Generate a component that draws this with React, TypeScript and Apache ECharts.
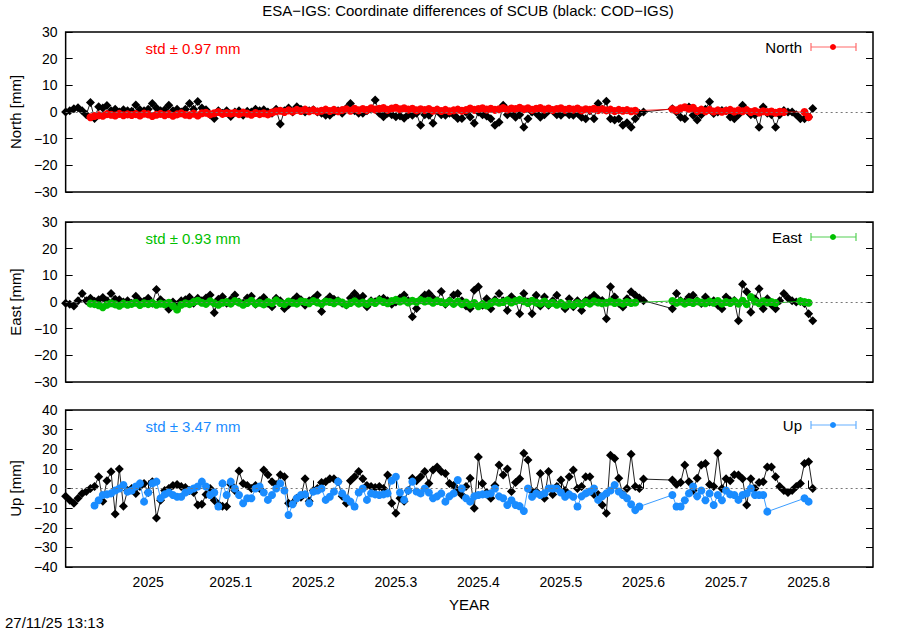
import React, { useEffect, useRef } from "react";
import * as echarts from "echarts";

const FONT = '"Liberation Sans", Arial, Helvetica, sans-serif';

// decimal-year epochs (shared by all series)
const epochs = [
  2024.900, 2024.905, 2024.910, 2024.915, 2024.920, 2024.925, 2024.930, 2024.935, 2024.940, 2024.945,
  2024.950, 2024.955, 2024.960, 2024.965, 2024.970, 2024.975, 2024.980, 2024.985, 2024.990, 2024.995,
  2025.000, 2025.005, 2025.010, 2025.015, 2025.020, 2025.025, 2025.030, 2025.035, 2025.040, 2025.045,
  2025.050, 2025.055, 2025.060, 2025.065, 2025.070, 2025.075, 2025.080, 2025.085, 2025.090, 2025.095,
  2025.100, 2025.105, 2025.110, 2025.115, 2025.120, 2025.125, 2025.130, 2025.135, 2025.140, 2025.145,
  2025.150, 2025.155, 2025.160, 2025.165, 2025.170, 2025.175, 2025.180, 2025.185, 2025.190, 2025.195,
  2025.200, 2025.205, 2025.210, 2025.215, 2025.220, 2025.225, 2025.230, 2025.235, 2025.240, 2025.245,
  2025.250, 2025.255, 2025.260, 2025.265, 2025.270, 2025.275, 2025.280, 2025.285, 2025.290, 2025.295,
  2025.300, 2025.305, 2025.310, 2025.315, 2025.320, 2025.325, 2025.330, 2025.335, 2025.340, 2025.345,
  2025.350, 2025.355, 2025.360, 2025.365, 2025.370, 2025.375, 2025.380, 2025.385, 2025.390, 2025.395,
  2025.400, 2025.405, 2025.410, 2025.415, 2025.420, 2025.425, 2025.430, 2025.435, 2025.440, 2025.445,
  2025.450, 2025.455, 2025.460, 2025.465, 2025.470, 2025.475, 2025.480, 2025.485, 2025.490, 2025.495,
  2025.500, 2025.505, 2025.510, 2025.515, 2025.520, 2025.525, 2025.530, 2025.535, 2025.540, 2025.545,
  2025.550, 2025.555, 2025.560, 2025.565, 2025.570, 2025.575, 2025.580, 2025.585, 2025.590, 2025.595,
  2025.600, 2025.605, 2025.610, 2025.615, 2025.620, 2025.625, 2025.630, 2025.635, 2025.640, 2025.645,
  2025.650, 2025.655, 2025.660, 2025.665, 2025.670, 2025.675, 2025.680, 2025.685, 2025.690, 2025.695,
  2025.700, 2025.705, 2025.710, 2025.715, 2025.720, 2025.725, 2025.730, 2025.735, 2025.740, 2025.745,
  2025.750, 2025.755, 2025.760, 2025.765, 2025.770, 2025.775, 2025.780, 2025.785, 2025.790, 2025.795,
  2025.800, 2025.805,
];

// North [mm] — black: COD-IGS, red: ESA-IGS
const northBlack = [
  0, 0.5, 1.2, 1.6, 0.5, -1, 3.6, -2.4, 2, 1.5,
  2.4, 0.5, 1, 0, 0.8, 0.5, 0.3, 2.6, 0.8, 0.5,
  1, 3.2, 1.5, 0.5, 0.8, 2.5, 0.5, 1, 0, 1,
  3.2, 1, 3.9, 1.5, 0.8, -1, -2.4, 0.5, -0.5, 0.5,
  -1.7, 0, 0.5, -1.2, 0.3, 0, 1, 0.5, 0.8, 0,
  -0.5, 1, -4.5, 0.5, 1.5, 0, 2, 1, 0, 0.5,
  0.8, 0, -0.5, -1.2, -1.2, 0, 0.5, -0.5, 1.4, 3.2,
  0.5, -0.5, -0.5, 0.5, 1, 4.5, -0.5, -1.8, -0.5, -1,
  -1.8, -1.5, -2.3, -1, -1.2, -0.5, -5, -1, -1.2, -4.2,
  0.5, -1, -1.2, -0.5, -1, -2.4, -2.4, 0, -1.9, -4.2,
  0, -1, -1.5, -2.5, -5, -3.8, 2.5, -1, -0.5, -2,
  -1, -5.7, -2.5, 0, -0.5, -2, -1, 0.5, 0.5, -1,
  -1.2, 0, -1, -1.2, -0.5, -2, -2.5, 0.5, -2.5, 3.2,
  1, 4, -2.5, -3, -2.5, -5, -4, -5.7, -2.5, -0.6,
  0, null, null, null, null, null, null, 1.2, 0, -2,
  -2.5, 1.9, -1.2, -3, -1, 1, 3.8, -0.6, 0, 0.6,
  0.5, -1.9, -2.5, -1, 2.5, 0.6, -1, -1, -5.7, 1.9,
  -0.5, -1, -5.7, -1, 0.6, 0, 0, -1, -2.5, -2.5,
  -1.9, 1.3,
];
const northColor = [
  null, null, null, null, null, null, -2, -1.5, -1.2, -1.4,
  -0.8, -1, -1.3, -0.7, -1.2, -0.9, -1.1, -0.8, -1.3, -0.6,
  -0.9, -1.5, -1, -0.7, -1.2, -0.8, -1.4, -0.9, -0.5, -1,
  -1.2, -0.6, -1.3, -0.5, -0.3, -0.9, -0.5, 0, -0.7, -0.4,
  -0.6, -0.3, -0.8, -0.2, -0.6, -1, -0.4, -0.8, -0.5, -0.9,
  -0.2, 0.3, 0.5, 0, 0.6, 0.2, 0.8, 0.4, 0.9, 0.3,
  0.7, 0.2, 0.5, 0.9, 0.4, 0.8, 0.3, 0.7, 1, 0.5,
  1.2, 0.6, 1.1, 0.7, 1.4, 0.9, 1.2, 1.5, 0.8, 1.3,
  1.6, 1, 1.4, 0.9, 1.2, 0.6, 1, 0.7, 1.1, 0.5,
  0.9, 0.4, 0.8, 0.3, 0.6, 0.9, 0.5, 0.7, 1.3, 0.8,
  1.1, 1.4, 0.9, 1.2, 0.8, 1, 1.5, 0.9, 1.3, 1.1,
  1.6, 1, 1.4, 0.8, 1.2, 1.5, 0.9, 1.3, 0.7, 1.1,
  1.4, 0.8, 1.2, 0.9, 1.3, 0.6, 1, 0.8, 1.2, 0.7,
  1, 0.6, 0.9, 0.4, 0.8, 0.5, 0.7, 0.3, 0.5, null,
  null, null, null, null, null, null, null, 1, 0.6, 1.4,
  1.8, 1.2, 1.6, 0.4, 0.9, 0.3, 0.8, 0.2, 0.6, 0.1,
  0.5, 0.8, 0.2, 0.6, 0.3, 0.7, 0, 0.4, -0.2, 0.3,
  0, 0.2, -0.3, 0.1, 0, null, null, null, null, 0,
  -1.9, null,
];

// East [mm]
const eastBlack = [
  -0.5, -0.8, -1.5, 0.5, 3.2, 0.5, 1.4, 0.3, 0.8, 1.7,
  0.5, 3.2, 1, 0.8, 0, 0.5, -0.5, 2.2, 0.5, 0.3,
  1.4, -0.5, 4.7, 0.8, -0.5, -2.7, 0, -1, 0.5, 0.8,
  1.8, -0.5, 1.4, 0.5, 1.5, 2.6, -4, 1, 2, -0.5,
  0.8, 2.6, 0, -0.5, 1.5, 2.2, -0.8, 0.5, 1.7, -0.5,
  -1.8, 1.4, 0.5, -2.4, -1, 0.5, 2, 0.8, -1.2, 0.5,
  1.2, 2.6, -3.6, 0.5, 2, 1, 0.5, -0.5, -1.1, 1.5,
  3.2, 1.5, 2.2, -1.8, 0.5, 0.1, 1, 1.4, 0.5, -0.8,
  0, 1.5, 2.6, 0.5, -5.5, -2.4, 1, 2.6, 3.2, 1.5,
  0.5, 3.9, -0.8, 0.5, 2.6, 3.2, 0.5, -1.5, -2.4, 4.4,
  5.7, -1.2, 1.2, -2.5, 0.8, 3.2, 0.5, -3.2, 2, 0.5,
  -4.4, 3.2, 0, -4.4, 2.5, -1.5, 1.9, -1.2, 0.5, 2.5,
  -0.5, -2.5, 1.2, -1.8, 0.5, -3.2, 0.6, 1.2, 2.5, 1,
  0.6, -6.3, 5.7, 1.9, -0.5, -1.9, 1.2, 3.8, 2.5, 1.5,
  0.5, null, null, null, null, null, null, -2.5, 3.2, 0.5,
  0, 1.9, 2.5, 0.5, -0.6, 1.9, 0, 0.5, -1.2, -2.5,
  1.9, 0.5, 0.6, -7, 6.7, 3.8, -3.8, 1.2, 5, -2.5,
  1.2, -1, -2.5, 0.5, 3.2, 1.5, 0.5, 0, 0.2, -0.6,
  -4.4, -7,
];
const eastColor = [
  null, null, null, null, null, null, -0.6, -0.8, -1.2, -2,
  -1, -0.5, -0.9, -1.4, -0.6, -1, -0.7, -0.3, -1.1, -0.5,
  -0.8, -0.4, -1, -0.6, -0.9, -0.3, -1.5, -2.8, -1, -0.5,
  -0.8, 0, 0.5, -0.3, -0.7, 0.3, -0.5, -1, -0.3, 0,
  -0.6, 0.4, -0.2, -1, -0.4, 0.5, -0.7, -0.3, -0.9, 0,
  -0.5, 0.6, -0.4, -0.8, 0.2, -0.3, -0.6, 0.3, 0, -0.5,
  0.4, -0.2, -0.7, 0.2, 0, -0.5, 0.3, -0.2, -1, -0.4,
  0.3, -0.6, -0.2, -0.8, 0.1, -0.4, 0.6, 0, -0.5, 0.4,
  0.8, 0.2, 0.6, -0.2, 0.5, 0, 0.7, 0.2, 0.5, -0.3,
  0.4, 0, -0.5, 0.3, -0.7, 0.2, -0.8, -0.2, -1, -0.4,
  -1.6, -0.8, -1.3, -0.5, 0.2, -0.3, 0, 0.6, -0.2, 0.4,
  0.8, 0.3, -0.4, 0.5, -0.2, -0.6, 0.2, -0.8, -0.3, -1,
  -0.5, -1.3, -0.7, -1.1, -0.4, -0.9, 0, -0.6, 0.3, -0.2,
  -0.5, -0.3, 0.2, -0.4, -0.1, -0.6, 0, -0.4, -0.2, null,
  null, null, null, null, null, null, null, 0.4, -0.3, 0.2,
  -0.6, 0, -0.4, 0.3, -0.2, -0.5, 0.2, -0.3, 0.4, -0.6,
  0, -0.4, 0.3, -0.6, 0.5, -0.8, 1.9, 0.2, -0.5, 0.3,
  -0.2, 0, -0.4, null, null, null, null, null, 0.3, 0,
  -0.3, null,
];

// Up [mm]
const upBlack = [
  -4, -6, -7.5, -5, -2.5, -1.5, 0, 1, 6, -6.5,
  4, 8.5, -13, 10, -9, -1, 0, -2.5, 1, 2.5,
  -2, 3.5, -15, -6, -1, 0, 1.5, 2, 1, 0.5,
  -1, -2, -8.4, -8, -3, 0, -6, -8, -9, -9.2,
  2, -1, 8.9, 2.5, 1.5, 0, 1.5, 0, 9.4, 7,
  3.5, 2, 7, 6, -7.5, -7.5, -5, -4.5, 5, -6.5,
  -1, 0, 3, 3.5, 5, 5, 3.5, -4, -7.5, 4,
  6, 8.6, 5, 1.5, 1, 0.5, 1, 0, 6.9, -7.5,
  -12.6, -5, -6.5, -1, 5.2, 4, 6, 8.6, 2.5, 9.4,
  11, 8.6, 7.7, 2.5, 1.5, -1, -3.3, 1, 5.2, -10,
  16, 2.5, -2, -5, 1.5, 12, 6.9, 10, -1.5, 3,
  5, 18, 14.5, -1.5, -1.5, 7.7, -5, 8.6, -3, 1,
  4.3, -1, 6, 9.4, 0, 1, 6, 6, -3, -3,
  -8.4, -12.6, 17, 15.3, 5.2, -3, 0, 17.4, 1, 0,
  4.8, null, null, null, null, null, null, 4.3, 2, 3,
  12, 3.5, -1, 5.2, 12, 12.8, 2, 1, 18, 0,
  5, 4, 7, 6.9, 5, -8.4, 5, 0, 3, 3.5,
  11, 11, 6, 1, -1, -2, -1, 1, 2.6, 12.8,
  13.6, 0,
];
const upColor = [
  null, null, null, null, null, null, null, -8.7, -6, -3.3,
  -3, -2.5, -1, 0, 1.8, -1.6, -1, 1, 2.6, -6.7,
  -2, 2.6, 3.5, -5, -3, -2, -3.3, -4.2, -4.2, -2,
  -1, 0, 1, 3.5, 1, -3.3, -2, -9.2, 2.6, -3.3,
  3.5, 0, -3.3, -7.5, -5, -5, 0, 1, -2, -5.8,
  -3.3, 0, 2.6, -1, -13.5, -8, -5, -3.3, -3, -7.5,
  -1.6, -1, 0, -5.8, -4.2, -1.6, 3.5, -2.5, -5, -6.7,
  -9.2, -2, 0, -5.8, -2.5, -3, -3.3, -3, -2.5, 4,
  6, -2, -5.8, -1, 3.5, -1.5, -2.5, 0, -2, -5,
  -4, -2.5, -6.7, -4, -2.5, 4.3, 0, -5, -6.7, -4,
  -3.3, -3, -3, -2.5, 0, -4, -5, -8.4, -6, -8.4,
  -9, -11.5, 0, -4.2, -2.5, -3.3, -2.5, 0, 0, 0,
  -2, -4.2, -3, -4.2, -9.2, -4, -2.5, -1.5, 0, -5.8,
  -4, -2.5, -1, 1.8, -1.5, -3.3, -5, -8, -11, -9.2,
  null, null, null, null, null, null, null, -3.3, -9.2, -9.2,
  -6, -2.5, 1, -4, -1, -6, -2.5, -8.4, -3.3, -6,
  -1, -3, -3.3, -5.8, -3.3, -2.5, 0, -3.3, -3.3, -3.3,
  -11.8, null, null, null, null, null, null, null, null, -5,
  -6.7, null,
];

const xTickValues = [2025.0, 2025.1, 2025.2, 2025.3, 2025.4, 2025.5, 2025.6, 2025.7, 2025.8];
const panelNames = ["North [mm]", "East [mm]", "Up [mm]"];
const legendNames = ["North", "East", "Up"];
const stdTexts = ["std \u00b1 0.97 mm", "std \u00b1 0.93 mm", "std \u00b1 3.47 mm"];
const yRanges = [[-30, 30], [-30, 30], [-40, 40]];
const colors = ["#ff0000", "#00c000", "#1a8cff"];
const legendLineColors = ["#ff6a6a", "#55d055", "#66b0ff"];
const blackData = [northBlack, eastBlack, upBlack];
const colorData = [northColor, eastColor, upColor];

const X_MIN = 2024.9;
const X_MAX = 2025.878;

const grids = [
  { top: 32, height: 160 },
  { top: 222, height: 160 },
  { top: 410, height: 157 },
];

function pairs(values: (number | null)[]) {
  const out: [number, number][] = [];
  values.forEach((v, k) => {
    if (v !== null && v !== undefined) out.push([epochs[k], v]);
  });
  return out;
}

function minusFmt(v: number) {
  return v < 0 ? "\u2212" + Math.abs(v) : String(v);
}

function buildOption() {
  const grid: any[] = [];
  const xAxis: any[] = [];
  const yAxis: any[] = [];
  const series: any[] = [];
  const graphic: any[] = [];

  grids.forEach((g, i) => {
    grid.push({
      left: 63, width: 810, top: g.top, height: g.height,
      show: true, borderColor: "#000", borderWidth: 1.5, backgroundColor: "transparent",
    });
    const isLast = i === grids.length - 1;
    xAxis.push({
      gridIndex: i, type: "value", min: X_MIN, max: X_MAX,
      axisLine: { show: false },
      splitLine: { show: false },
      axisTick: {
        show: isLast, inside: true, length: 8, customValues: xTickValues,
        lineStyle: { color: "#000", width: 1 },
      },
      axisLabel: {
        show: isLast, customValues: xTickValues, color: "#000", fontSize: 14, fontFamily: FONT, margin: 8,
        formatter: (v: number) => String(Math.round(v * 10) / 10),
      },
      name: isLast ? "YEAR" : "",
      nameLocation: "middle", nameGap: 30,
      nameTextStyle: { color: "#000", fontSize: 15, fontFamily: FONT },
    });
    const [ymin, ymax] = yRanges[i];
    yAxis.push({
      gridIndex: i, type: "value", min: ymin, max: ymax, interval: 10,
      axisLine: { show: false }, splitLine: { show: false },
      axisTick: { inside: true, length: 7, lineStyle: { color: "#000", width: 1 } },
      axisLabel: { color: "#000", fontSize: 14, fontFamily: FONT, margin: 8, formatter: minusFmt },
      name: panelNames[i], nameLocation: "middle", nameGap: 40,
      nameTextStyle: { color: "#000", fontSize: 15, fontFamily: FONT },
    });
    yAxis.push({
      gridIndex: i, type: "value", position: "right", min: ymin, max: ymax, interval: 10,
      axisLine: { show: false }, splitLine: { show: false },
      axisTick: { inside: true, length: 7, lineStyle: { color: "#000", width: 1 } },
      axisLabel: { show: false },
    });

    // zero reference line
    series.push({
      type: "line", xAxisIndex: i, yAxisIndex: 2 * i, data: [], z: 1, silent: true,
      markLine: {
        silent: true, symbol: "none", label: { show: false },
        lineStyle: { color: "#777", type: [2, 3], width: 1 },
        data: [{ yAxis: 0 }],
      },
    });
    series.push({
      type: "line", xAxisIndex: i, yAxisIndex: 2 * i, z: 2,
      data: pairs(blackData[i]),
      symbol: "diamond", symbolSize: 9,
      lineStyle: { color: "#222", width: 1 },
      itemStyle: { color: "#000" },
    });
    series.push({
      type: "line", xAxisIndex: i, yAxisIndex: 2 * i, z: 3,
      data: pairs(colorData[i]),
      symbol: "circle", symbolSize: 8,
      lineStyle: { color: colors[i], width: 1, opacity: 0.85 },
      itemStyle: { color: colors[i] },
    });

    const ly = g.top + 15;
    graphic.push(
      {
        type: "text", x: 193, y: ly + 1,
        style: { text: stdTexts[i], fill: colors[i], font: `15px ${FONT}`, align: "center", verticalAlign: "middle" },
      },
      {
        type: "text", x: 802, y: ly,
        style: { text: legendNames[i], fill: "#000", font: `15px ${FONT}`, align: "right", verticalAlign: "middle" },
      },
      { type: "line", shape: { x1: 811, y1: ly, x2: 856, y2: ly }, style: { stroke: legendLineColors[i], lineWidth: 1.2 } },
      { type: "line", shape: { x1: 811, y1: ly - 4, x2: 811, y2: ly + 4 }, style: { stroke: legendLineColors[i], lineWidth: 1.2 } },
      { type: "line", shape: { x1: 856, y1: ly - 4, x2: 856, y2: ly + 4 }, style: { stroke: legendLineColors[i], lineWidth: 1.2 } },
      { type: "circle", shape: { cx: 833, cy: ly, r: 3 }, style: { fill: colors[i] } },
    );
  });

  graphic.push(
    {
      type: "text", x: 468, y: 10,
      style: {
        text: "ESA\u2212IGS: Coordinate differences of SCUB (black: COD\u2212IGS)",
        fill: "#000", font: `15px ${FONT}`, align: "center", verticalAlign: "middle",
      },
    },
    {
      type: "text", x: 5, y: 622,
      style: { text: "27/11/25 13:13", fill: "#000", font: `15px ${FONT}`, align: "left", verticalAlign: "middle" },
    },
  );

  return {
    animation: false,
    backgroundColor: "#fff",
    textStyle: { fontFamily: FONT },
    grid, xAxis, yAxis, series, graphic,
  };
}

export default function App() {
  const ref = useRef<HTMLDivElement>(null);
  useEffect(() => {
    if (!ref.current) return;
    const chart = echarts.init(ref.current, null, { renderer: "svg" });
    chart.setOption(buildOption() as any);
    return () => chart.dispose();
  }, []);
  return (
    <div
      ref={ref}
      style={{ position: "fixed", left: 0, top: 0, width: 900, height: 630, background: "#fff" }}
    />
  );
}
